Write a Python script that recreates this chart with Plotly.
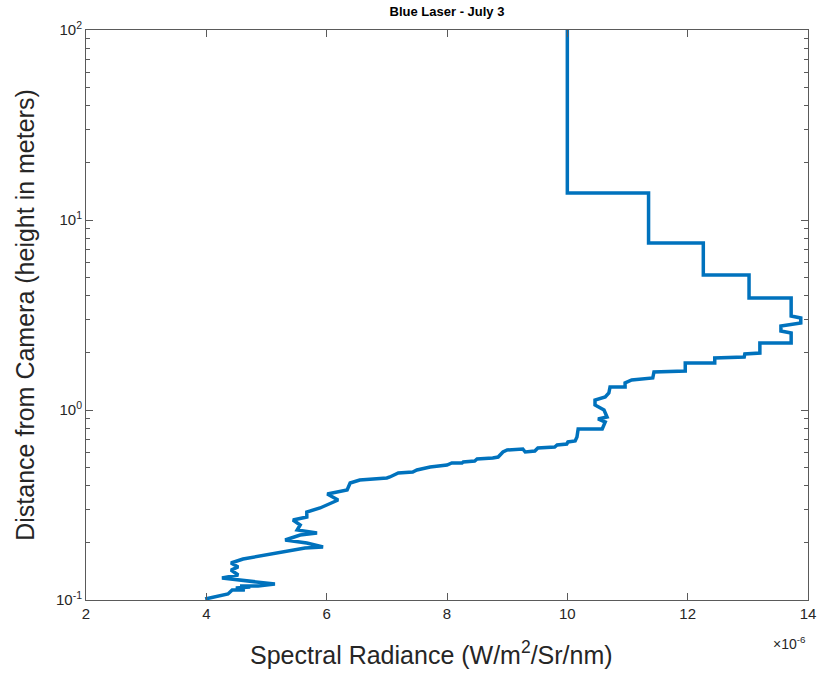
import plotly.graph_objects as go

# Spectral radiance profile (units of 1e-6 W/m^2/Sr/nm) vs height above camera (m)
radiance = [
    3.98, 4.14, 4.36, 4.43, 4.64, 4.49, 4.73, 4.56, 4.86, 5.14,
    4.73, 4.26, 4.53, 4.41, 4.53, 4.41, 4.61, 4.89, 5.22, 5.64,
    5.94, 5.67, 5.31, 5.56, 5.84, 5.51, 5.56, 5.44, 5.67, 5.67,
    5.89, 6.06, 6.19, 6.01, 6.17, 6.34, 6.39, 6.55, 7.00, 7.05,
    7.19, 7.43, 7.50, 7.67, 7.72, 8.00, 8.08, 8.25, 8.27, 8.46,
    8.50, 8.76, 8.85, 8.93, 9.00, 9.26, 9.30, 9.46, 9.51, 9.79,
    9.83, 9.99, 10.01, 10.13, 10.16, 10.18, 10.58, 10.63, 10.51, 10.66,
    10.61, 10.46, 10.46, 10.63, 10.69, 10.71, 10.96, 10.96, 11.07, 11.42,
    11.44, 11.96, 11.96, 12.45, 12.45, 12.94, 12.95, 13.20, 13.20, 13.72,
    13.72, 13.55, 13.55, 13.88, 13.88, 13.72, 13.72, 13.02, 13.02, 12.26,
    12.26, 11.35, 11.35, 10.00, 10.00,
]
height = [
    0.1012, 0.1037, 0.1076, 0.1129, 0.1129, 0.1157, 0.1171, 0.1185, 0.1185, 0.1214,
    0.1259, 0.1305, 0.1354, 0.1438, 0.1492, 0.1566, 0.1643, 0.1704, 0.1768, 0.1878,
    0.1901, 0.1995, 0.2070, 0.2198, 0.2252, 0.2336, 0.2482, 0.2637, 0.2735, 0.2906,
    0.3050, 0.3240, 0.3360, 0.3612, 0.3701, 0.3793, 0.4127, 0.4280, 0.4385, 0.4440,
    0.4660, 0.4717, 0.4833, 0.4951, 0.5012, 0.5134, 0.5261, 0.5261, 0.5325, 0.5390,
    0.5522, 0.5589, 0.5657, 0.6011, 0.6158, 0.6232, 0.6011, 0.6083, 0.6310, 0.6387,
    0.6544, 0.6624, 0.6787, 0.6867, 0.7207, 0.7943, 0.7943, 0.8646, 0.8967, 0.9188,
    1.0000, 1.0625, 1.1289, 1.1706, 1.2290, 1.3214, 1.3214, 1.3874, 1.4386, 1.4737,
    1.5849, 1.6043, 1.7676, 1.7676, 1.8779, 1.9006, 1.9710, 1.9953, 2.2522, 2.2522,
    2.5428, 2.6051, 2.7681, 2.8707, 3.0497, 3.1243, 3.8857, 3.8857, 5.1343, 5.1343,
    7.5652, 7.5652, 13.874, 13.874, 100.0,
]

x_ticks = [2, 4, 6, 8, 10, 12, 14]
y_ticks = [0.1, 1, 10, 100]
y_tick_text = ["10<sup>-1</sup>", "10<sup>0</sup>", "10<sup>1</sup>", "10<sup>2</sup>"]

SCALE = 1e-6
x_vals = [v * SCALE for v in radiance]

axis_color = "#5a5a5a"
text_color = "#262626"
font_family = "Liberation Sans, Arial, sans-serif"

minor_y = [m * 10 ** e for e in (-1, 0, 1) for m in range(2, 10)]

fig = go.Figure()
fig.add_trace(go.Scatter(
    x=x_vals, y=height, mode="lines",
    line=dict(color="#0072BD", width=3.5),
    showlegend=False, hoverinfo="skip",
))

fig.update_layout(
    width=822, height=673,
    margin=dict(l=86, r=14, t=30, b=73),
    paper_bgcolor="white", plot_bgcolor="white",
    font=dict(family=font_family, color=text_color),
    title=dict(
        text="<b>Blue Laser - July 3</b>",
        x=0.5, xref="paper", xanchor="center",
        y=1, yref="paper", yanchor="bottom", pad=dict(b=14),
        font=dict(size=13, color="#000000"),
    ),
    xaxis=dict(
        range=[2 * SCALE, 14 * SCALE],
        automargin=False,
        tickmode="array",
        tickvals=[t * SCALE for t in x_ticks],
        ticktext=[str(t) for t in x_ticks],
        ticks="inside", ticklen=7, tickcolor=axis_color, tickwidth=1,
        showline=True, linecolor=axis_color, linewidth=1, mirror="ticks",
        showgrid=False, zeroline=False,
        tickfont=dict(size=15, color=text_color),
    ),
    yaxis=dict(
        type="log",
        range=[-1, 2],
        automargin=False,
        tickmode="array", tickvals=y_ticks, ticktext=y_tick_text,
        ticks="inside", ticklen=7, tickcolor=axis_color, tickwidth=1,
        minor=dict(tickmode="array", tickvals=minor_y, ticks="inside",
                   ticklen=4, tickcolor=axis_color, showgrid=False),
        showline=True, linecolor=axis_color, linewidth=1, mirror="ticks",
        showgrid=False, zeroline=False,
        tickfont=dict(size=15, color=text_color),
        title=dict(text="Distance from Camera (height in meters)",
                   font=dict(size=25, color=text_color), standoff=14),
    ),
    annotations=[
        dict(
            text="Spectral Radiance (W/m<sup>2</sup>/Sr/nm)",
            xref="paper", yref="paper", x=0.479, y=-0.093,
            xanchor="center", yanchor="middle", showarrow=False,
            font=dict(size=25, color=text_color),
        ),
        dict(
            text="\u00d710<sup>-6</sup>", xref="paper", yref="paper",
            x=1.0, y=-0.056, xanchor="right", yanchor="top",
            showarrow=False, font=dict(size=14, color=text_color),
        ),
    ],
)

fig.write_html("out.html")
